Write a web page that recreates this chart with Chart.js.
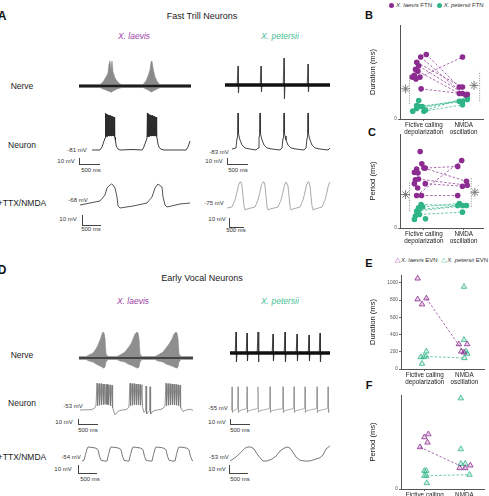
<!DOCTYPE html>
<html lang="en">
<head>
<meta charset="UTF-8">
<title>Fast trill and early vocal neurons</title>
<script src="https://cdn.jsdelivr.net/npm/chart.js@4"></script>
<style>
  body { margin: 0; width: 489px; height: 496px; overflow: hidden; position: relative; background: #fff;
         font-family: "Liberation Sans", Arial, sans-serif; color: #222; }
  canvas { position: absolute; }
  .t { position: absolute; transform: translate(-50%, -50%); white-space: nowrap; line-height: 1; }
  .l { position: absolute; transform: translateY(-50%); white-space: nowrap; line-height: 1; }
  .pl { font-weight: bold; font-size: 12px; color: #111; }
  .hd { font-size: 9px; }
  .sp { font-style: italic; font-size: 8.5px; }
  .lae { color: #a03ea6; }
  .pet { color: #45c096; }
  .row { font-size: 8.5px; }
  .mv { font-size: 6px; color: #333; }
  .bar { position: absolute; border-left: 1px solid #444; border-bottom: 1px solid #444; }
  .lg { font-size: 6px; color: #333; }
  .lg em { font-style: italic; }
  .dot { display: inline-block; width: 5px; height: 5px; border-radius: 50%; margin-right: 2px; vertical-align: -0.5px; }
  .tri { font-size: 6.5px; margin-right: 1px; }
</style>
</head>
<body>
  <!-- A: fast trill neurons -->
  <div class="t pl" style="left:2px;top:16px">A</div>
  <div class="t hd" style="left:202px;top:16px">Fast Trill Neurons</div>
  <div class="t sp lae" style="left:134px;top:36px">X. laevis</div>
  <div class="t sp pet" style="left:280px;top:36px">X. petersii</div>
  <div class="t row" style="left:22px;top:86px">Nerve</div>
  <div class="t row" style="left:22px;top:145px">Neuron</div>
  <div class="t row" style="left:22px;top:203px">+TTX/NMDA</div>

  <div class="t mv" style="left:77px;top:150px">-81 mV</div>
  <div class="t mv" style="left:219px;top:152px">-83 mV</div>
  <div class="t mv" style="left:78px;top:200px">-68 mV</div>
  <div class="t mv" style="left:214px;top:203px">-75 mV</div>

  <div class="bar" style="left:79px;top:158px;width:20px;height:6px"></div>
  <div class="t mv" style="left:66px;top:161px">10 mV</div>
  <div class="t mv" style="left:91px;top:170px">500 ms</div>
  <div class="bar" style="left:227px;top:158px;width:20px;height:6px"></div>
  <div class="t mv" style="left:214px;top:161px">10 mV</div>
  <div class="t mv" style="left:238px;top:170px">500 ms</div>
  <div class="bar" style="left:82px;top:215px;width:18px;height:10px"></div>
  <div class="t mv" style="left:68px;top:219px">10 mV</div>
  <div class="t mv" style="left:91px;top:229px">500 ms</div>
  <div class="bar" style="left:229px;top:218px;width:14px;height:9px"></div>
  <div class="t mv" style="left:217px;top:219px">10 mV</div>
  <div class="t mv" style="left:236px;top:230px">500 ms</div>

  <!-- D: early vocal neurons -->
  <div class="t pl" style="left:2px;top:270px">D</div>
  <div class="t hd" style="left:202px;top:278px">Early Vocal Neurons</div>
  <div class="t sp lae" style="left:133px;top:301px">X. laevis</div>
  <div class="t sp pet" style="left:280px;top:301px">X. petersii</div>
  <div class="t row" style="left:22px;top:355px">Nerve</div>
  <div class="t row" style="left:22px;top:403px">Neuron</div>
  <div class="t row" style="left:22px;top:457px">+TTX/NMDA</div>

  <div class="t mv" style="left:73px;top:406px">-53 mV</div>
  <div class="t mv" style="left:218px;top:408px">-55 mV</div>
  <div class="t mv" style="left:71px;top:457px">-54 mV</div>
  <div class="t mv" style="left:219px;top:457px">-53 mV</div>

  <div class="bar" style="left:78px;top:419px;width:19px;height:5px"></div>
  <div class="t mv" style="left:64px;top:422px">10 mV</div>
  <div class="t mv" style="left:88px;top:430px">500 ms</div>
  <div class="bar" style="left:230px;top:419px;width:19px;height:5px"></div>
  <div class="t mv" style="left:217px;top:422px">10 mV</div>
  <div class="t mv" style="left:240px;top:430px">500 ms</div>
  <div class="bar" style="left:78px;top:465px;width:18px;height:8px"></div>
  <div class="t mv" style="left:63px;top:469px">10 mV</div>
  <div class="t mv" style="left:90px;top:479px">500 ms</div>
  <div class="bar" style="left:229px;top:465px;width:18px;height:8px"></div>
  <div class="t mv" style="left:217px;top:469px">10 mV</div>
  <div class="t mv" style="left:240px;top:479px">500 ms</div>

  <!-- B, C, E, F -->
  <div class="t pl" style="left:369px;top:15px;font-size:11px">B</div>
  <div class="t pl" style="left:372px;top:132px;font-size:11px">C</div>
  <div class="t pl" style="left:369px;top:263px;font-size:11px">E</div>
  <div class="t pl" style="left:369px;top:385px;font-size:11px">F</div>

  <div class="l lg" style="left:389px;top:5px">
    <span class="dot" style="background:#8c2c91"></span><em>X. laevis</em> FTN
    <span class="dot" style="background:#2fb487;margin-left:3px"></span><em>X. petersii</em> FTN
  </div>
  <div class="l lg" style="left:395px;top:260px">
    <span class="tri lae">&#9651;</span><em>X. laevis</em> EVN
    <span class="tri pet" style="margin-left:2px">&#9651;</span><em>X. petersii</em> EVN
  </div>

<script>
// ---------- trace data: [time ms, value] (mV above rest, nerve in a.u.) ----------
// fast trill neurons
const ftnLaevisNerve = [ // [t, upper, lower]
  [0,1.5,-1.5],[525,1.5,-1.5],[600,4,-3],[675,9,-4],[725,13,-5],[750,22,-5],[775,25,-6],[800,16,-6],[825,25,-6],
  [850,14,-5],[900,8,-4],[950,5,-3],[1025,2,-2],[1075,1.5,-1.5],[1600,1.5,-1.5],[1675,5,-3],[1725,10,-4],
  [1775,16,-5],[1800,24,-6],[1825,25,-6],[1850,18,-5],[1900,9,-4],[1950,5,-3],[2000,2,-2],[2050,1.5,-1.5],[2800,1.5,-1.5]
];
const ftnPetersiiNerve = [
  [0,0],[305,0],[325,19],[337,-8],[350,0],[880,0],[900,19],[912,-7],[925,0],[1455,0],[1475,27],[1487,-14],[1500,0],
  [2055,0],[2075,21],[2087,-7],[2100,0],[2625,0]
];
const ftnLaevisNeuron = [
  [0,0],[200,0],[250,6],[300,18],[325,24],
  [335,74],[345,26],[352,72],[362,27],[369,72],[379,27],[386,71],[396,28],[403,70],[413,28],[420,70],[430,28],
  [437,69],[447,28],[454,69],[464,28],[471,68],[481,28],[488,68],[498,28],[505,67],[515,28],[522,67],[532,28],
  [539,66],[549,28],[556,66],[566,27],[575,26],[585,20],[600,10],[625,5],[650,2],[700,0],[1000,1],[1250,0],
  [1275,2],[1325,12],[1375,24],
  [1385,74],[1395,26],[1402,72],[1412,27],[1419,72],[1429,27],[1436,71],[1446,28],[1453,70],[1463,28],[1470,70],
  [1480,28],[1487,69],[1497,28],[1504,69],[1514,28],[1521,68],[1531,28],[1538,68],[1548,28],[1555,67],[1565,28],
  [1572,67],[1582,28],[1589,66],[1599,28],[1606,66],[1616,27],[1630,22],[1650,12],[1675,6],[1700,3],[1750,1],
  [1800,0],[2000,0],[2350,0],[2400,6],[2450,18]
];
const ftnPetersiiNeuron = [
  [0,2],[100,4],[125,24],[140,30],[150,74],[160,34],[175,28],[200,20],[250,10],[325,4],[450,2],[600,0],
  [650,4],[675,24],[690,30],[700,74],[710,34],[725,28],[750,20],[800,10],[875,4],[1000,2],[1200,0],
  [1250,4],[1275,24],[1290,30],[1300,74],[1310,34],[1325,28],[1350,20],[1400,10],[1475,4],[1600,2],[1800,0],
  [1850,4],[1875,24],[1890,30],[1900,74],[1910,34],[1925,28],[1950,20],[2000,10],[2075,4],[2200,2],[2400,0],[2450,4]
];
const ftnLaevisTtx = [
  [0,0],[250,2],[500,4],[625,10],[675,17],[750,20],[787,21],[825,20],[875,17],[925,8],[950,-1],[1000,-3],
  [1325,-1],[1675,2],[1800,8],[1875,17],[1950,21],[2050,18],[2075,8],[2125,0],[2175,-2],[2500,1],[2750,2]
];
const ftnPetersiiTtx = [
  [0,2],[125,3],[200,10],[250,18],[287,25],[325,28],[350,28],[375,24],[400,14],[425,4],[450,0],[500,1],
  [700,3],[775,10],[825,18],[862,25],[900,28],[925,28],[950,24],[975,14],[1000,4],[1025,0],[1075,1],
  [1275,3],[1350,10],[1400,18],[1437,25],[1475,28],[1500,28],[1525,24],[1550,14],[1575,4],[1600,0],[1650,1],
  [1825,3],[1900,10],[1950,18],[1987,25],[2025,28],[2050,28],[2075,24],[2100,14],[2125,4],[2150,0],[2200,1],
  [2375,3],[2450,10],[2500,18],[2537,25],[2575,28]
];
// early vocal neurons
const evnLaevisNerve = [ // [t, upper, lower]
  [0,1.5,-1.5],[175,1.5,-1.5],[250,3,-3],[350,5,-4],[425,9,-6],[475,13,-7],[525,18,-8],[575,24,-9],[600,26,-10],
  [625,25,-10],[650,20,-9],[675,4,-4],[725,1.5,-1.5],
  [950,1.5,-1.5],[1025,3,-3],[1150,6,-4],[1225,10,-6],[1300,14,-7],[1350,19,-8],[1400,24,-9],[1450,26,-10],
  [1475,25,-10],[1500,20,-9],[1525,4,-4],[1575,1.5,-1.5],
  [1900,1.5,-1.5],[1975,3,-3],[2100,6,-4],[2175,10,-6],[2250,14,-7],[2325,19,-8],[2375,24,-9],[2425,26,-10],
  [2450,25,-10],[2475,20,-9],[2500,4,-4],[2550,1.5,-1.5],[2850,1.5,-1.5]
];
const evnPetersiiNerve = [
  [0,0],[130,0],[150,21],[162,-9],[175,0],[405,0],[425,20],[437,-8],[450,0],[680,0],[700,21],[712,-9],[725,0],
  [1055,0],[1075,19],[1087,-8],[1100,0],[1355,0],[1375,21],[1387,-9],[1400,0],[1655,0],[1675,19],[1687,-8],[1700,0],
  [1955,0],[1975,18],[1987,-8],[2000,0],[2230,0],[2250,20],[2262,-9],[2275,0],[2500,0]
];
const evnLaevisNeuron = [
  [0,0],[300,1],[375,6],[400,12],[425,67],[440,10],[475,66],[490,12],[525,66],[540,13],[575,65],[590,14],
  [612,65],[627,14],[650,64],[665,14],[675,64],[690,14],[700,63],[715,13],[750,63],[765,10],[800,62],[815,6],
  [875,-12],[925,-6],[1000,-1],[1150,1],[1200,4],[1225,10],[1250,67],[1265,11],[1300,66],[1315,12],[1350,66],
  [1365,13],[1400,65],[1415,13],[1450,65],[1465,13],[1500,64],[1515,12],[1550,63],[1565,6],[1600,-6],[1640,-2],
  [1650,60],[1665,-10],[1700,-6],[1740,-2],[1750,58],[1765,-10],[1800,-5],[1875,-1],[2000,1],[2075,4],[2125,10],
  [2150,67],[2165,11],[2200,66],[2215,12],[2250,66],[2265,13],[2300,65],[2315,13],[2350,65],[2365,13],[2400,64],
  [2415,12],[2450,63],[2465,10],[2500,62],[2515,6],[2575,-4],[2650,0],[2750,2],[2825,-1]
];
const evnPetersiiNeuron = [
  [0,0],[15,1],[25,58],[37,-6],[60,-2],
  [140,2],[165,3],[175,58],[187,-6],[210,-2],[300,1],
  [370,3],[390,4],[400,58],[412,-6],[435,-2],[550,1],
  [640,3],[665,4],[675,58],[687,-6],[710,-2],[850,1],
  [940,3],[965,4],[975,58],[987,-6],[1010,-2],[1150,1],
  [1265,3],[1290,4],[1300,58],[1312,-6],[1335,-2],[1450,1],
  [1540,3],[1565,4],[1575,58],[1587,-6],[1610,-2],[1730,1],
  [1815,3],[1840,4],[1850,58],[1862,-6],[1885,-2],[2020,1],
  [2115,3],[2140,4],[2150,58],[2162,-6],[2185,-2],[2300,1],
  [2390,3],[2415,4],[2425,58],[2437,-6],[2460,-2],[2475,-1]
];
const evnLaevisTtx = [
  [0,0],[50,1],[87,8],[125,15],[150,17.5],[250,17],[350,16],[400,14],[437,6],[475,1],[550,0],
  [625,0],[662,8],[700,15],[725,17.5],[825,17],[925,16],[975,14],[1012,6],[1050,1],[1125,0],
  [1175,0],[1212,8],[1250,15],[1275,17.5],[1375,17],[1475,16],[1525,14],[1562,6],[1600,1],[1675,0],
  [1750,0],[1787,8],[1825,15],[1850,17.5],[1950,17],[2050,16],[2100,14],[2137,6],[2175,1],[2250,0],
  [2325,0],[2362,8],[2400,15],[2425,17.5],[2525,17],[2625,16],[2675,14],[2712,6],[2750,1],[2775,0]
];
const evnPetersiiTtx = [
  [0,0],[150,5],[275,11],[375,16],[450,17.5],[525,17.5],[600,15],[675,9],[750,4],[825,0],[925,0],[1050,2.5],
  [1150,6],[1250,12.5],[1350,16],[1425,17.5],[1500,16],[1575,11],[1650,5],[1750,1],[1850,0],[2000,0],
  [2150,2.5],[2250,4],[2325,7.5],[2400,15],[2500,19]
];

// ---------- summary data: each neuron = [fictive calling, NMDA oscillation] ----------
const categories = [['Fictive calling', 'depolarization'], ['NMDA', 'oscillation']];
// B: FTN duration (ms)
const ftnLaevisDuration = [[700,346],[673,277],[615,346],[577,262],[519,277],[435,673],[327,269],[538,null],[473,null],[454,null],[454,null]];
const ftnLaevisDurationX = [[1.06,1.89],[0.92,1.97],[0.82,1.97],[0.87,2.05],[0.85,1.89],[0.80,1.97],[0.93,2.09],[0.79,null],[0.76,null],[0.71,null],[0.90,null]];
const ftnPetersiiDuration = [[135,192],[135,212],[96,238],[85,154],[115,192],[85,null],[146,null],[200,null]];
const ftnPetersiiDurationX = [[0.88,1.89],[0.96,2.09],[1.04,2.09],[1.00,1.97],[0.82,1.97],[0.72,null],[0.82,null],[0.87,null]];
const ftnDurationRange = [[0.64,165,481],[2.40,192,519]];
const ftnDurationStars = [[0.54,327],[2.26,365]];
// C: FTN period (ms)
const ftnLaevisPeriod = [[1454,1494],[1454,1132],[787,1638],[1076,1012],[1188,1036],[787,787],[1855,null],[1558,null],[1430,null],[1349,null],[1333,null],[1172,null],[1076,null],[972,null]];
const ftnLaevisPeriodX = [[1.035,1.85],[1.0,2.07],[0.818,1.95],[1.035,1.97],[0.866,2.09],[0.94,1.85],[0.907,null],[0.948,null],[0.818,null],[0.762,null],[0.852,null],[0.786,null],[0.762,null],[0.843,null]];
const ftnPetersiiPeriod = [[570,546],[514,594],[450,546],[410,546],[329,385],[289,null],[209,null],[490,null],[353,null],[225,null]];
const ftnPetersiiPeriodX = [[0.93,1.85],[0.97,1.89],[0.88,1.97],[0.818,2.07],[0.89,1.97],[0.786,null],[0.762,null],[0.866,null],[0.843,null],[1.04,null]];
const ftnPeriodRange = [[0.64,410,1132],[2.19,514,1237]];
const ftnPeriodStars = [[0.54,811],[2.28,867]];
// E: EVN duration (ms)
const evnLaevisDuration = [[819,192],[1050,null],[808,null],[750,null],[null,288],[null,288],[null,204]];
const evnLaevisDurationX = [[1.04,1.99],[0.82,null],[0.82,null],[0.93,null],[null,1.86],[null,2.07],[null,1.92]];
const evnPetersiiDuration = [[146,127],[62,null],[138,null],[138,null],[204,null],[null,954],[null,338],[null,177],[null,204]];
const evnPetersiiDurationX = [[1.03,2.0],[0.93,null],[0.9,null],[0.97,null],[1.04,null],[null,1.99],[null,1.99],[null,2.07],[null,2.04]];
// F: EVN period (ms)
const evnLaevisPeriod = [[1024,512],[1268,null],[1341,null],[1138,null],[null,512],[null,577]];
const evnLaevisPeriodX = [[0.88,2.02],[0.99,null],[1.09,null],[1.07,null],[null,1.88],[null,2.15]];
const evnPetersiiPeriod = [[325,350],[447,null],[447,null],[325,null],[146,null],[null,2220],[null,976],[null,618],[null,618]];
const evnPetersiiPeriodX = [[1.04,2.13],[0.99,null],[1.04,null],[0.99,null],[1.05,null],[null,1.91],[null,1.91],[null,1.91],[null,2.02]];

const PURPLE = '#8c2c91';
const GREEN = '#2fb487';

Chart.defaults.font.family = '"Liberation Sans", Arial, sans-serif';
Chart.defaults.animation = false;

function addCanvas(x, y, w, h) {
  const c = document.createElement('canvas');
  c.width = w; c.height = h;
  c.style.left = x + 'px'; c.style.top = y + 'px';
  c.style.width = w + 'px'; c.style.height = h + 'px';
  document.body.appendChild(c);
  return c;
}

const xy = arr => arr.map(p => ({ x: p[0], y: p[1] }));

// one recording trace; box is the pixel area that xMax / yMin..yMax fill
function trace(box, xMax, yMin, yMax, datasets) {
  const pad = 2;
  const c = addCanvas(box[0] - pad, box[1] - pad, box[2] + 2 * pad, box[3] + 2 * pad);
  datasets.forEach(d => { d.pointRadius = 0; d.clip = pad; d.tension = 0; });
  new Chart(c, {
    type: 'line',
    data: { datasets },
    options: {
      responsive: false,
      layout: { padding: pad },
      plugins: { legend: { display: false }, tooltip: { enabled: false } },
      scales: {
        x: { type: 'linear', display: false, min: 0, max: xMax },
        y: { display: false, min: yMin, max: yMax }
      }
    }
  });
}

function line(data, color, width) {
  return { data: xy(data), borderColor: color, borderWidth: width, fill: false };
}

function nerveBurst(data, xMax, base, fillColor, baseWidth) {
  return [
    { data: [{ x: 0, y: 0 }, { x: xMax, y: 0 }], borderColor: base, borderWidth: baseWidth, fill: false },
    { data: data.map(p => ({ x: p[0], y: p[1] })), borderColor: fillColor, borderWidth: 0.6,
      backgroundColor: fillColor, fill: '+1' },
    { data: data.map(p => ({ x: p[0], y: p[2] })), borderColor: fillColor, borderWidth: 0.6, fill: false }
  ];
}

// A
trace([79, 59, 112, 35], 2800, -8, 27, nerveBurst(ftnLaevisNerve, 2800, '#1c1c1c', '#8a8a8a', 2.6));
trace([225, 56, 105, 45], 2625, -16, 29, [
  line([[0,0],[2625,0]], '#111', 3.4),
  line(ftnPetersiiNerve, '#444', 0.9)
]);
trace([92, 111, 98, 41], 2450, -4, 78, [line(ftnLaevisNeuron, '#2a2a2a', 0.9)]);
trace([232, 111, 98, 41], 2450, -4, 78, [line(ftnPetersiiNeuron, '#333', 0.9)]);
trace([80, 182, 110, 28], 2750, -5, 23, [line(ftnLaevisTtx, '#555', 1)]);
trace([227, 180, 103, 32], 2575, -2, 30, [line(ftnPetersiiTtx, '#aaa', 1)]);
// D
trace([79, 330, 114, 40], 2850, -12, 28, nerveBurst(evnLaevisNerve, 2850, '#444', '#8e8e8e', 1.8));
trace([230, 330, 100, 35], 2500, -12, 23, [
  line([[0,0],[2500,0]], '#111', 3.4),
  line(evnPetersiiNerve, '#333', 0.9)
]);
trace([80, 382, 113, 34], 2825, -15, 70, [line(evnLaevisNeuron, '#7a7a7a', 0.8)]);
trace([231, 386, 99, 28], 2475, -10, 60, [line(evnPetersiiNeuron, '#999', 0.8)]);
trace([82, 445, 111, 18], 2775, -2.5, 20, [line(evnLaevisTtx, '#777', 1)]);
trace([230, 445, 100, 18], 2500, -2.5, 20, [line(evnPetersiiTtx, '#777', 1)]);

// ---------- summary scatter panels ----------
function points(vals, xs, k) {
  const out = [];
  vals.forEach((v, i) => { if (v[k] != null) out.push({ x: xs[i][k], y: v[k] }); });
  return out;
}
function links(vals, xs) {
  const out = [];
  vals.forEach((v, i) => {
    if (v[0] == null || v[1] == null) return;
    out.push({ x: xs[i][0], y: v[0] }, { x: xs[i][1], y: v[1] }, { x: xs[i][1], y: null });
  });
  return out;
}
function species(vals, xs, color, style) {
  const pts = points(vals, xs, 0).concat(points(vals, xs, 1));
  const tri = style === 'triangle';
  return [
    { data: pts, showLine: false, pointStyle: style, pointRadius: tri ? 3.2 : 2.8,
      backgroundColor: tri ? color + '33' : color, borderColor: color, borderWidth: tri ? 0.8 : 0, order: 0 },
    { data: links(vals, xs), showLine: true, pointRadius: 0, borderColor: color + 'cc', borderWidth: 0.9,
      borderDash: [2.5, 1.8], order: 2 }
  ];
}
function brackets(ranges, stars) {
  const seg = [];
  ranges.forEach(r => seg.push({ x: r[0], y: r[1] }, { x: r[0], y: r[2] }, { x: r[0], y: null }));
  return [
    { data: seg, showLine: true, pointRadius: 0, borderColor: '#888', borderWidth: 1, borderDash: [1, 1.5], order: 3 },
    { data: xy(stars), showLine: false, pointStyle: 'star', pointRadius: 4.4, borderColor: '#777',
      backgroundColor: 'rgba(0,0,0,0)', borderWidth: 1, order: 1 }
  ];
}

function panel(top, areaLeft, yMax, yStep, title, datasets) {
  const c = addCanvas(368, top, 121, 122);
  new Chart(c, {
    type: 'scatter',
    data: { datasets },
    options: {
      responsive: false,
      layout: { padding: { top: 8, right: 2, left: 0, bottom: 0 } },
      plugins: { legend: { display: false }, tooltip: { enabled: false } },
      scales: {
        x: {
          type: 'linear', min: 0.4, max: 2.5,
          afterFit: s => { s.height = 20; },
          afterBuildTicks: s => { s.ticks = [{ value: 1 }, { value: 2 }]; },
          ticks: { callback: v => categories[v - 1], font: { size: 6.3, lineHeight: 1.05 }, color: '#222', padding: 1, maxRotation: 0 },
          grid: { drawOnChartArea: false, tickLength: 2, color: '#666' },
          border: { color: '#555' }
        },
        y: {
          min: 0, max: yMax,
          afterFit: s => { s.width = areaLeft - 368; },
          afterBuildTicks: s => { s.ticks = s.ticks.filter(t => t.value % yStep === 0); },
          ticks: { stepSize: yStep, callback: v => String(v), font: { size: 4.8 }, color: '#555', padding: 1 },
          title: { display: true, text: title, font: { size: 7.6 }, color: '#222', padding: { top: 0, bottom: 1 } },
          grid: { drawOnChartArea: false, tickLength: 2, color: '#666' },
          border: { color: '#555' }
        }
      }
    }
  });
}

panel(17, 400, 1020, 200, 'Duration (ms)', [
  ...species(ftnLaevisDuration, ftnLaevisDurationX, PURPLE, 'circle'),
  ...species(ftnPetersiiDuration, ftnPetersiiDurationX, GREEN, 'circle'),
  ...brackets(ftnDurationRange, ftnDurationStars)
]);
panel(126, 400, 2280, 500, 'Period (ms)', [
  ...species(ftnLaevisPeriod, ftnLaevisPeriodX, PURPLE, 'circle'),
  ...species(ftnPetersiiPeriod, ftnPetersiiPeriodX, GREEN, 'circle'),
  ...brackets(ftnPeriodRange, ftnPeriodStars)
]);
panel(267, 401, 1090, 200, 'Duration (ms)', [
  ...species(evnLaevisDuration, evnLaevisDurationX, PURPLE, 'triangle'),
  ...species(evnPetersiiDuration, evnPetersiiDurationX, GREEN, 'triangle')
]);
panel(387, 401, 2300, 500, 'Period (ms)', [
  ...species(evnLaevisPeriod, evnLaevisPeriodX, PURPLE, 'triangle'),
  ...species(evnPetersiiPeriod, evnPetersiiPeriodX, GREEN, 'triangle')
]);
</script>
</body>
</html>
